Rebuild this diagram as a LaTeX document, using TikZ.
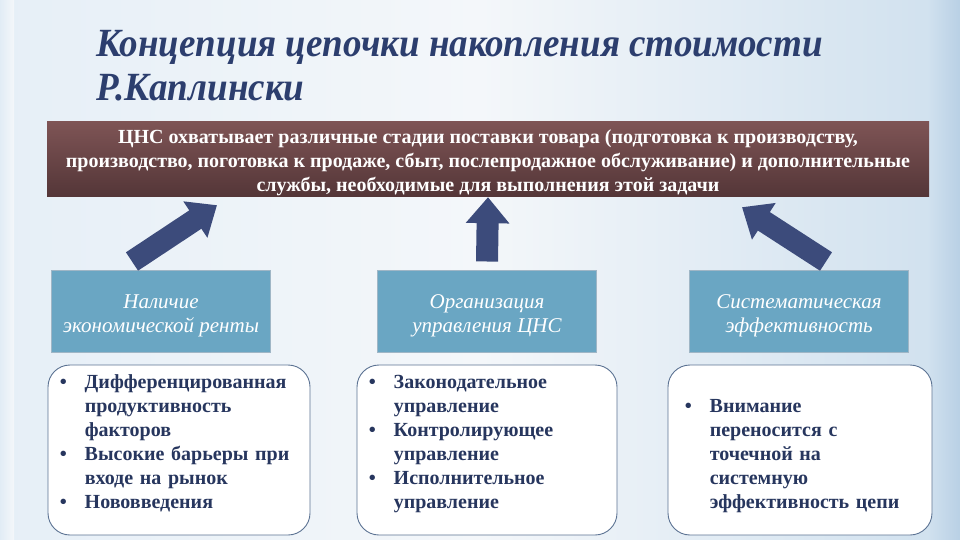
\documentclass[tikz,border=0pt]{standalone}
\usepackage{fontspec}
\setmainfont{Liberation Serif}
\newfontfamily\titlefont{Liberation Serif}[FakeStretch=0.925]
\usetikzlibrary{arrows.meta,calc}
\definecolor{bgA}{HTML}{E6EFF7}
\definecolor{bgB}{HTML}{F4F7FA}
\definecolor{bgC}{HTML}{CFE0EE}
\definecolor{bgEdge}{HTML}{B9D0E5}
\definecolor{titleblue}{HTML}{2C3E6E}
\definecolor{brownTop}{HTML}{7E5455}
\definecolor{brownBot}{HTML}{543638}
\definecolor{tealfill}{HTML}{6AA6C3}
\definecolor{tealedge}{HTML}{9FB6C6}
\definecolor{arrowblue}{HTML}{3C4B7B}
\definecolor{listtextc}{HTML}{27365E}
\definecolor{listedge}{HTML}{5C7393}
\newcommand{\bul}[1]{\par\hangindent=25pt\hangafter=1\noindent\makebox[25pt][l]{\textbullet}#1\par}
\tikzset{
  topbox/.style={minimum width=882pt, minimum height=74pt, inner sep=0pt,
    top color=brownTop, bottom color=brownBot},
  toptext/.style={inner sep=0pt, text=white, align=center,
    font=\fontsize{20}{24}\selectfont\bfseries},
  midbox/.style={minimum width=219pt, minimum height=82pt, inner sep=0pt,
    fill=tealfill, draw=tealedge, line width=1pt},
  midtext/.style={inner sep=0pt, text=white, align=center,
    font=\fontsize{21}{24}\selectfont\itshape},
  listbox/.style={minimum height=170pt, fill=white, draw=listedge, line width=0.9pt,
    rounded corners=22pt},
  listtext/.style={anchor=north west, inner sep=0pt, text width=250pt,
    text=listtextc, font=\fontsize{20}{24}\selectfont\bfseries\raggedright},
  bigarrow/.style={draw=arrowblue, line width=22pt,
    -{Triangle[length=26pt,width=42pt,fill=arrowblue]}}
}
\begin{document}
\begin{tikzpicture}[x=1pt,y=-1pt]
\useasboundingbox (0,0) rectangle (960,540);
\shade[left color=bgA, right color=bgC, middle color=bgB] (0,0) rectangle (960,540);
\shade[left color=bgC, right color=bgEdge] (930,0) rectangle (960,540);
\shade[left color=bgA!80!bgC, right color=bgB] (0,0) rectangle (14,540);

\node[anchor=north west, align=left, inner sep=0pt, text=titleblue,
  font=\fontsize{40}{44}\titlefont\bfseries\itshape] (title) at (96,30)
  {Концепция цепочки накопления стоимости\\Р.Каплински};

\node[topbox] (top) at (488,159) {};
\node[toptext] (topText) at (488,163) {ЦНС охватывает различные стадии поставки товара (подготовка к производству,\\производство, поготовка к продаже, сбыт, послепродажное обслуживание) и дополнительные\\службы, необходимые для выполнения этой задачи};

\node[midbox] (tealL) at (161,311) {};
\node[midbox] (tealM) at (487,311) {};
\node[midbox] (tealR) at (799,311) {};
\node[midtext] (tealLText) at (161,316) {Наличие\\экономической ренты};
\node[midtext] (tealMText) at (487,316) {Организация\\управления ЦНС};
\node[midtext] (tealRText) at (799,316) {Систематическая\\эффективность};

\draw[bigarrow] ([xshift=-29pt,yshift=8pt]tealL.north) -- ([xshift=-271pt,yshift=-9pt]top.south);
\draw[bigarrow] ([yshift=8pt]tealM.north) -- ([yshift=-1pt]top.south);
\draw[bigarrow] ([xshift=27pt,yshift=8pt]tealR.north) -- ([xshift=254pt,yshift=-11pt]top.south);

\node[listbox, minimum width=262pt] (listL) at (179,450) {};
\node[listbox, minimum width=260pt] (listM) at (487,450) {};
\node[listbox, minimum width=264pt] (listR) at (800,450) {};

\node[listtext] (txtL) at ($(listL.north west)+(12,0)$)
  {\bul{Дифференцированная\newline продуктивность\newline факторов}\bul{Высокие барьеры при\newline входе на рынок}\bul{Нововведения}};
\node[listtext] (txtM) at ($(listM.north west)+(12,0)$)
  {\bul{Законодательное\newline управление}\bul{Контролирующее\newline управление}\bul{Исполнительное\newline управление}};
\node[listtext] (txtR) at ($(listR.north west)+(17,24)$)
  {\bul{Внимание\newline переносится с\newline точечной на\newline системную\newline эффективность цепи}};
\end{tikzpicture}
\end{document}
